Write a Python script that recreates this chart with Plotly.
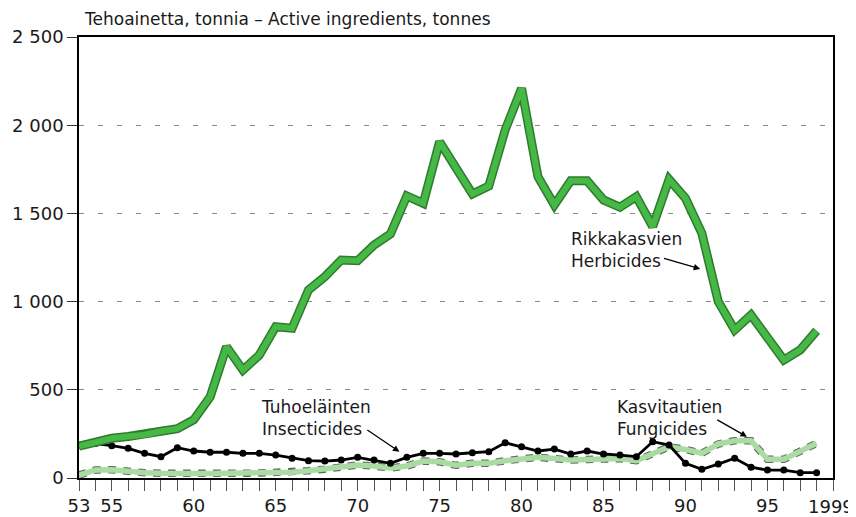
import plotly.graph_objects as go

# Vuodet 1953-1998
years = [1953, 1954, 1955, 1956, 1957, 1958, 1959, 1960, 1961, 1962,
         1963, 1964, 1965, 1966, 1967, 1968, 1969, 1970, 1971, 1972,
         1973, 1974, 1975, 1976, 1977, 1978, 1979, 1980, 1981, 1982,
         1983, 1984, 1985, 1986, 1987, 1988, 1989, 1990, 1991, 1992,
         1993, 1994, 1995, 1996, 1997, 1998]

# Rikkakasvien torjunta-aineet (Herbicides), tonnia
herbicides = [180, 205, 225, 235, 245, 265, 280, 330, 460, 744,
              612, 697, 858, 849, 1066, 1141, 1236, 1232, 1321, 1383,
              1599, 1557, 1906, 1758, 1610, 1655, 1973, 2209, 1708, 1548,
              1685, 1685, 1576, 1535, 1595, 1425, 1693, 1586, 1387, 1000,
              839, 924, 795, 669, 726, 835]

# Tuhoeläinten torjunta-aineet (Insecticides)
insecticides = [185, 195, 183, 168, 140, 121, 172, 153, 146, 146,
                140, 140, 130, 112, 98, 96, 102, 117, 102, 83,
                117, 140, 140, 136, 143, 149, 200, 177, 153, 164,
                136, 153, 136, 130, 121, 206, 187, 83, 49, 79,
                112, 61, 45, 45, 30, 30]

# Kasvitautien torjunta-aineet (Fungicides)
fungicides = [17, 45, 47, 36, 30, 27, 25, 25, 25, 27,
              27, 28, 30, 33, 41, 50, 64, 74, 68, 57,
              68, 96, 92, 72, 83, 83, 98, 105, 117, 110,
              102, 105, 110, 110, 98, 136, 177, 162, 140, 193,
              211, 211, 106, 106, 149, 197]

# Akselien merkinnät
x_tick_years = [1953, 1954, 1955, 1956, 1957, 1958, 1959, 1960, 1961, 1962,
                1963, 1964, 1965, 1966, 1967, 1968, 1969, 1970, 1971, 1972,
                1973, 1974, 1975, 1976, 1977, 1978, 1979, 1980, 1981, 1982,
                1983, 1984, 1985, 1986, 1987, 1988, 1989, 1990, 1991, 1992,
                1993, 1994, 1995, 1996, 1997, 1998, 1999]
x_labels = {1953: '53', 1955: '55', 1960: '60', 1965: '65', 1970: '70',
            1975: '75', 1980: '80', 1985: '85', 1990: '90', 1995: '95'}
# Viimeinen vuosimerkintä siirretään hieman sisäänpäin, ettei se leikkaannu
edge_labels = [('1999', 1998.85)]
y_tick_vals = [0, 500, 1000, 1500, 2000, 2500]
y_tick_text = ['0', '500', '1 000', '1 500', '2 000', '2 500']

font_family = 'DejaVu Sans, Arial, sans-serif'
text_color = '#1a1a1a'

fig = go.Figure()

# Kasvitautien: vaaleanvihreä viiva tummalla pisteviivareunalla
fig.add_trace(go.Scatter(x=years, y=fungicides, mode='lines',
                         line=dict(color='#5d6b5a', width=7.5, dash='dot'),
                         hoverinfo='skip', showlegend=False))
fig.add_trace(go.Scatter(x=years, y=fungicides, mode='lines',
                         line=dict(color='#a9dba3', width=5.5),
                         name='Fungicides', showlegend=False))

# Tuhoeläinten: musta viiva ja pisteet
fig.add_trace(go.Scatter(x=years, y=insecticides, mode='lines+markers',
                         line=dict(color='black', width=2.8),
                         marker=dict(color='black', size=7),
                         name='Insecticides', showlegend=False))

# Rikkakasvien: paksu vihreä viiva tummalla reunalla
fig.add_trace(go.Scatter(x=years, y=herbicides, mode='lines',
                         line=dict(color='#2f7a2f', width=9),
                         hoverinfo='skip', showlegend=False))
fig.add_trace(go.Scatter(x=years, y=herbicides, mode='lines',
                         line=dict(color='#45b845', width=6),
                         name='Herbicides', showlegend=False))

fig.update_xaxes(range=[1953, 1999], automargin=False,
                 tickvals=x_tick_years,
                 ticktext=[x_labels.get(y, '') for y in x_tick_years],
                 ticks='outside', ticklen=11, tickcolor='#555', tickwidth=1,
                 showline=True, linecolor='black', linewidth=1.5, mirror=True,
                 showgrid=False, zeroline=False,
                 tickfont=dict(size=18, family=font_family, color=text_color))

fig.update_yaxes(range=[0, 2500], automargin=False,
                 tickvals=y_tick_vals, ticktext=y_tick_text,
                 ticks='outside', ticklen=10, tickcolor='#333', tickwidth=1,
                 showline=True, linecolor='black', linewidth=1.5, mirror=True,
                 showgrid=True, gridcolor='#8a8a8a', gridwidth=1,
                 griddash='5px,14px', zeroline=False,
                 tickfont=dict(size=18, family=font_family, color=text_color))

annot_font = dict(size=17, family=font_family, color=text_color)
annotations = [
    # Otsikko
    dict(text='Tehoainetta, tonnia – Active ingredients, tonnes',
         xref='paper', yref='paper', x=0.004, y=1.0, yshift=6,
         xanchor='left', yanchor='bottom', showarrow=False, font=annot_font),
    # Nimiöt
    dict(text='Rikkakasvien<br>Herbicides', x=1982.9, y=1290,
         xanchor='left', yanchor='middle', align='left', showarrow=False,
         font=annot_font),
    dict(text='Tuhoeläinten<br>Insecticides', x=1964.0, y=340,
         xanchor='left', yanchor='middle', align='left', showarrow=False,
         font=annot_font),
    dict(text='Kasvitautien<br>Fungicides', x=1985.7, y=340,
         xanchor='left', yanchor='middle', align='left', showarrow=False,
         font=annot_font),
    # Nuolet
    dict(text='', x=1990.9, y=1185, ax=1988.6, ay=1247, axref='x', ayref='y',
         showarrow=True, arrowhead=2, arrowsize=1, arrowwidth=1.3,
         arrowcolor='black'),
    dict(text='', x=1972.55, y=149, ax=1970.5, ay=278, axref='x', ayref='y',
         showarrow=True, arrowhead=2, arrowsize=1, arrowwidth=1.3,
         arrowcolor='black'),
    dict(text='', x=1993.75, y=234, ax=1991.85, ay=334, axref='x', ayref='y',
         showarrow=True, arrowhead=2, arrowsize=1, arrowwidth=1.3,
         arrowcolor='black'),
]
for label, pos in edge_labels:
    annotations.append(dict(text=label, x=pos, xref='x', y=0, yref='paper',
                            xanchor='center', yanchor='top', yshift=-16,
                            showarrow=False,
                            font=dict(size=18, family=font_family,
                                      color=text_color)))

# Sivun oletusreunus (8 px) huomioitu koossa ja marginaaleissa
fig.update_layout(width=848, height=509,
                  margin=dict(l=71, r=23, t=29, b=39),
                  paper_bgcolor='white', plot_bgcolor='white',
                  annotations=annotations,
                  font=dict(family=font_family, color=text_color))

fig.write_html("out.html")
